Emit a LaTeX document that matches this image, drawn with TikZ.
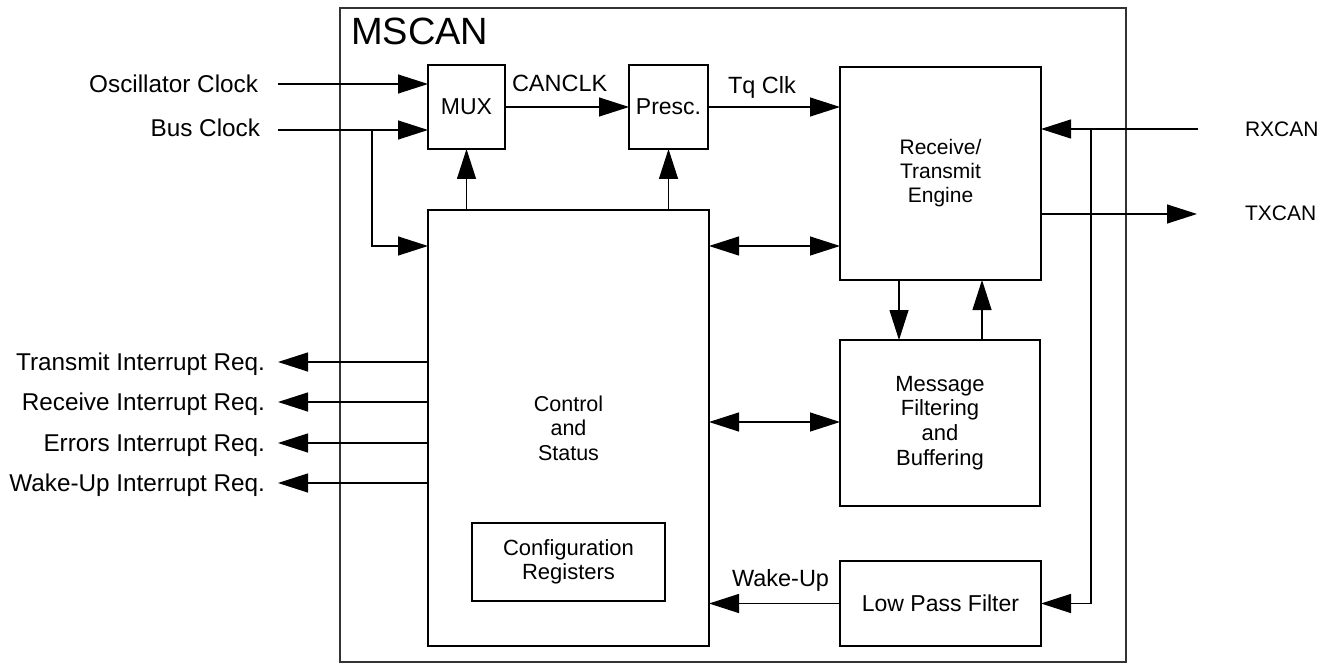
\documentclass[tikz,border=0pt]{standalone}
\usepackage{fontspec}
\setmainfont{Liberation Sans}
\usetikzlibrary{arrows.meta}
\begin{document}
\begin{tikzpicture}[x=1pt,y=-1pt,
  line width=1.2pt,
  every node/.style={inner sep=0pt, outer sep=0pt},
  box/.style={draw, anchor=north west, align=center, font=\fontsize{21.5}{24.5}\selectfont},
  tip/.style={-{Triangle[length=30pt,width=19pt]}},
  dtip/.style={{Triangle[length=30pt,width=19pt]}-{Triangle[length=30pt,width=19pt]}},
  lbl/.style={font=\fontsize{23.5}{26}\selectfont},
  side/.style={font=\fontsize{24.3}{26}\selectfont},
  sig/.style={font=\fontsize{21}{24}\selectfont},
]
\useasboundingbox (0,0) rectangle (1333,663);

% boxes
\node[box, draw=black!80, minimum width=786pt, minimum height=654pt] (mscan) at (340,8) {};
\node[anchor=base west, font=\fontsize{38}{40}\selectfont] (title) at (351,45) {MSCAN};
\node[box, minimum width=77pt, minimum height=84pt, font=\fontsize{23}{26}\selectfont] (mux) at (428,65) {MUX};
\node[box, minimum width=79pt, minimum height=84pt, font=\fontsize{23}{26}\selectfont] (presc) at (629,65) {Presc.};
\node[box, minimum width=201pt, minimum height=213pt, font=\fontsize{21}{24}\selectfont] (engine) at (840,67) {Receive/\\Transmit\\Engine};
\node[box, minimum width=281pt, minimum height=436pt] (ctrl) at (428,210) {Control\\and\\Status};
\node[box, minimum width=193pt, minimum height=78pt, font=\fontsize{22}{23.5}\selectfont] (config) at (472,523) {Configuration\\Registers};
\node[box, minimum width=200pt, minimum height=166pt, font=\fontsize{22}{24.8}\selectfont] (msg) at (840,340) {Message\\Filtering\\and\\Buffering};
\node[box, minimum width=201pt, minimum height=85pt, font=\fontsize{23}{26}\selectfont] (lpf) at (840,561) {Low Pass Filter};

% clock inputs
\coordinate (oscin) at (278,84);
\coordinate (busin) at (278,130);
\coordinate (busbr) at (372,130);
\coordinate (ctrlclk) at (428,246);
\node[side, anchor=base east] (osclbl) at (258,93) {Oscillator Clock};
\node[side, anchor=base east] (buslbl) at (260,137) {Bus Clock};
\draw[tip] (oscin) -- (oscin -| mux.west);
\draw[tip] (busin) -- (busin -| mux.west);
\draw[tip] (busbr) |- (ctrlclk);

% clock chain
\draw[tip] (mux.east) -- (presc.west);
\node[lbl, anchor=base west] (canclk) at (512,92) {CANCLK};
\draw[tip] (presc.east) -- (presc.east -| engine.west);
\node[lbl, anchor=base west] (tqclk) at (728,94) {Tq Clk};
\draw[tip] (mux.south |- ctrl.north) -- (mux.south);
\draw[tip] (presc.south |- ctrl.north) -- (presc.south);

% CAN pins
\coordinate (rx) at (1198,129);
\coordinate (rxbr) at (1091,129);
\coordinate (txout) at (1197,214);
\draw[tip] (rx) -- (rx -| engine.east);
\draw[tip] (rxbr) |- (lpf.east);
\draw[tip] (engine.east |- txout) -- (txout);
\node[sig, anchor=base west] (rxlbl) at (1245,137) {RXCAN};
\node[sig, anchor=base west] (txlbl) at (1245,221) {TXCAN};

% internal connections
\coordinate (d1) at (770,246);
\coordinate (d2) at (770,422);
\coordinate (dn) at (899,310);
\coordinate (up) at (982,310);
\draw[dtip] (ctrl.east |- d1) -- (engine.west |- d1);
\draw[dtip] (ctrl.east |- d2) -- (msg.west |- d2);
\draw[tip] (dn |- engine.south) -- (dn |- msg.north);
\draw[tip] (up |- msg.north) -- (up |- engine.south);
\draw[tip] (lpf.west) -- (ctrl.east |- lpf.west);
\node[lbl, anchor=base west] (wakelbl) at (732,586) {Wake-Up};

% interrupt requests
\coordinate (i1) at (278,362);
\coordinate (i2) at (278,402);
\coordinate (i3) at (278,443);
\coordinate (i4) at (278,483);
\draw[tip] (ctrl.west |- i1) -- (i1);
\draw[tip] (ctrl.west |- i2) -- (i2);
\draw[tip] (ctrl.west |- i3) -- (i3);
\draw[tip] (ctrl.west |- i4) -- (i4);
\node[side, anchor=base east] (l1) at (265,370) {Transmit Interrupt Req.};
\node[side, anchor=base east] (l2) at (265,410) {Receive Interrupt Req.};
\node[side, anchor=base east] (l3) at (265,451) {Errors Interrupt Req.};
\node[side, anchor=base east] (l4) at (265,491) {Wake-Up Interrupt Req.};
\end{tikzpicture}
\end{document}
